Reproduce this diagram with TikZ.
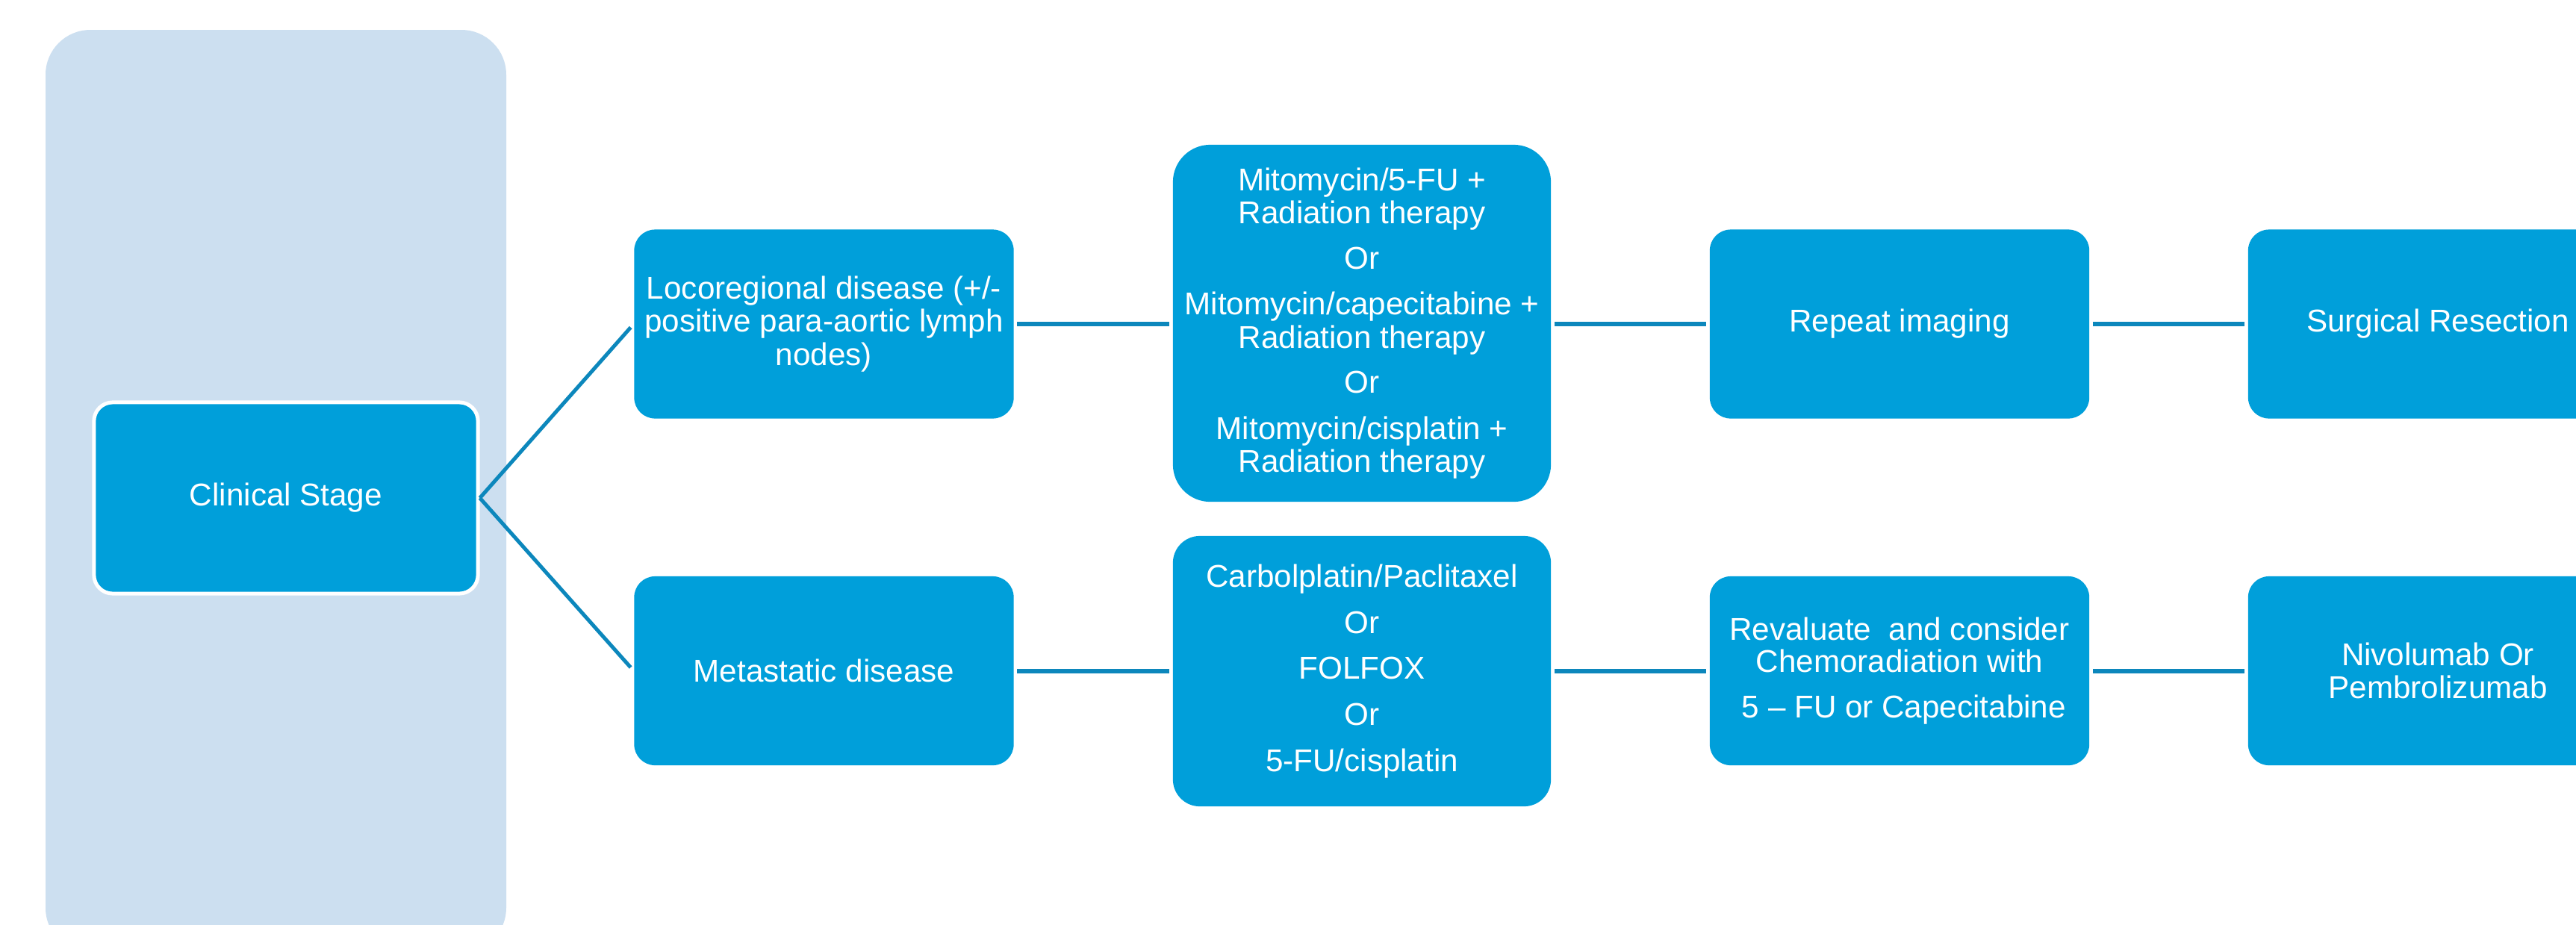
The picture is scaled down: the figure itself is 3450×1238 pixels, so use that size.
\documentclass[tikz,border=0pt]{standalone}
\usepackage{fontspec}
\setmainfont{Liberation Sans}
\definecolor{boxblue}{HTML}{009FDA}
\definecolor{panelblue}{HTML}{CCDFF0}
\definecolor{lineblue}{HTML}{0C87BC}
\tikzset{
  box/.style={rounded corners=0.28cm, fill=boxblue, text=white, inner sep=0pt,
    minimum width=5.08cm, minimum height=2.53cm, align=center,
    font=\fontsize{12}{12.6}\selectfont},
  conn/.style={draw=lineblue, line width=0.06cm, shorten <=0.04cm, shorten >=0.04cm},
  diag/.style={draw=lineblue, line width=0.05cm, shorten >=0.06cm},
}
\begin{document}
\begin{tikzpicture}[x=0.01cm, y=-0.01cm]
\clip (0,0) rectangle (3450,1238);
\fill[white] (0,0) rectangle (3450,1238);
% background panel
\fill[panelblue, rounded corners=0.6cm] (61,40) rectangle (678,1276);
% nodes
\node[box, draw=white, line width=0.05cm, rounded corners=0.25cm,
  minimum width=5.14cm, minimum height=2.56cm] (cs) at (383,667) {Clinical Stage};
\node[box] (loco) at (1103.5,434) {Locoregional disease (+/-\\positive para-aortic lymph\\nodes)};
\node[box] (meta) at (1103.5,898.5) {Metastatic disease};
\node[box, rounded corners=0.5cm, minimum width=5.06cm, minimum height=4.78cm] (mid1) at (1824,433)
  {Mitomycin/5-FU +\\Radiation therapy\\[4.7pt]Or\\[4.9pt]Mitomycin/capecitabine +\\Radiation therapy\\[4.7pt]Or\\[4.9pt]Mitomycin/cisplatin +\\Radiation therapy};
\node[box, rounded corners=0.36cm, minimum width=5.06cm, minimum height=3.62cm,
  font=\fontsize{12}{17.6}\selectfont] (mid2) at (1824,899)
  {Carbolplatin/Paclitaxel\\Or\\FOLFOX\\Or\\5-FU/cisplatin};
\node[box] (rep) at (2544,434) {Repeat imaging};
\node[box, font=\fontsize{12}{12.3}\selectfont] (rev) at (2544,898.5)
  {Revaluate\ \ and consider\\Chemoradiation with\\[5.1pt]\ 5 – FU or Capecitabine};
\node[box] (surg) at (3265,434) {Surgical Resection};
\node[box, font=\fontsize{12}{12.3}\selectfont] (nivo) at (3265,898.5) {Nivolumab Or\\Pembrolizumab};
% connectors
\draw[diag] (cs.east) -- (loco.west);
\draw[diag] (cs.east) -- (meta.west);
\draw[conn] (loco.east) -- (loco.east -| mid1.west);
\draw[conn] (mid1.east |- rep.west) -- (rep.west);
\draw[conn] (rep.east) -- (surg.west);
\draw[conn] (meta.east) -- (meta.east -| mid2.west);
\draw[conn] (mid2.east |- rev.west) -- (rev.west);
\draw[conn] (rev.east) -- (nivo.west);
\end{tikzpicture}
\end{document}
